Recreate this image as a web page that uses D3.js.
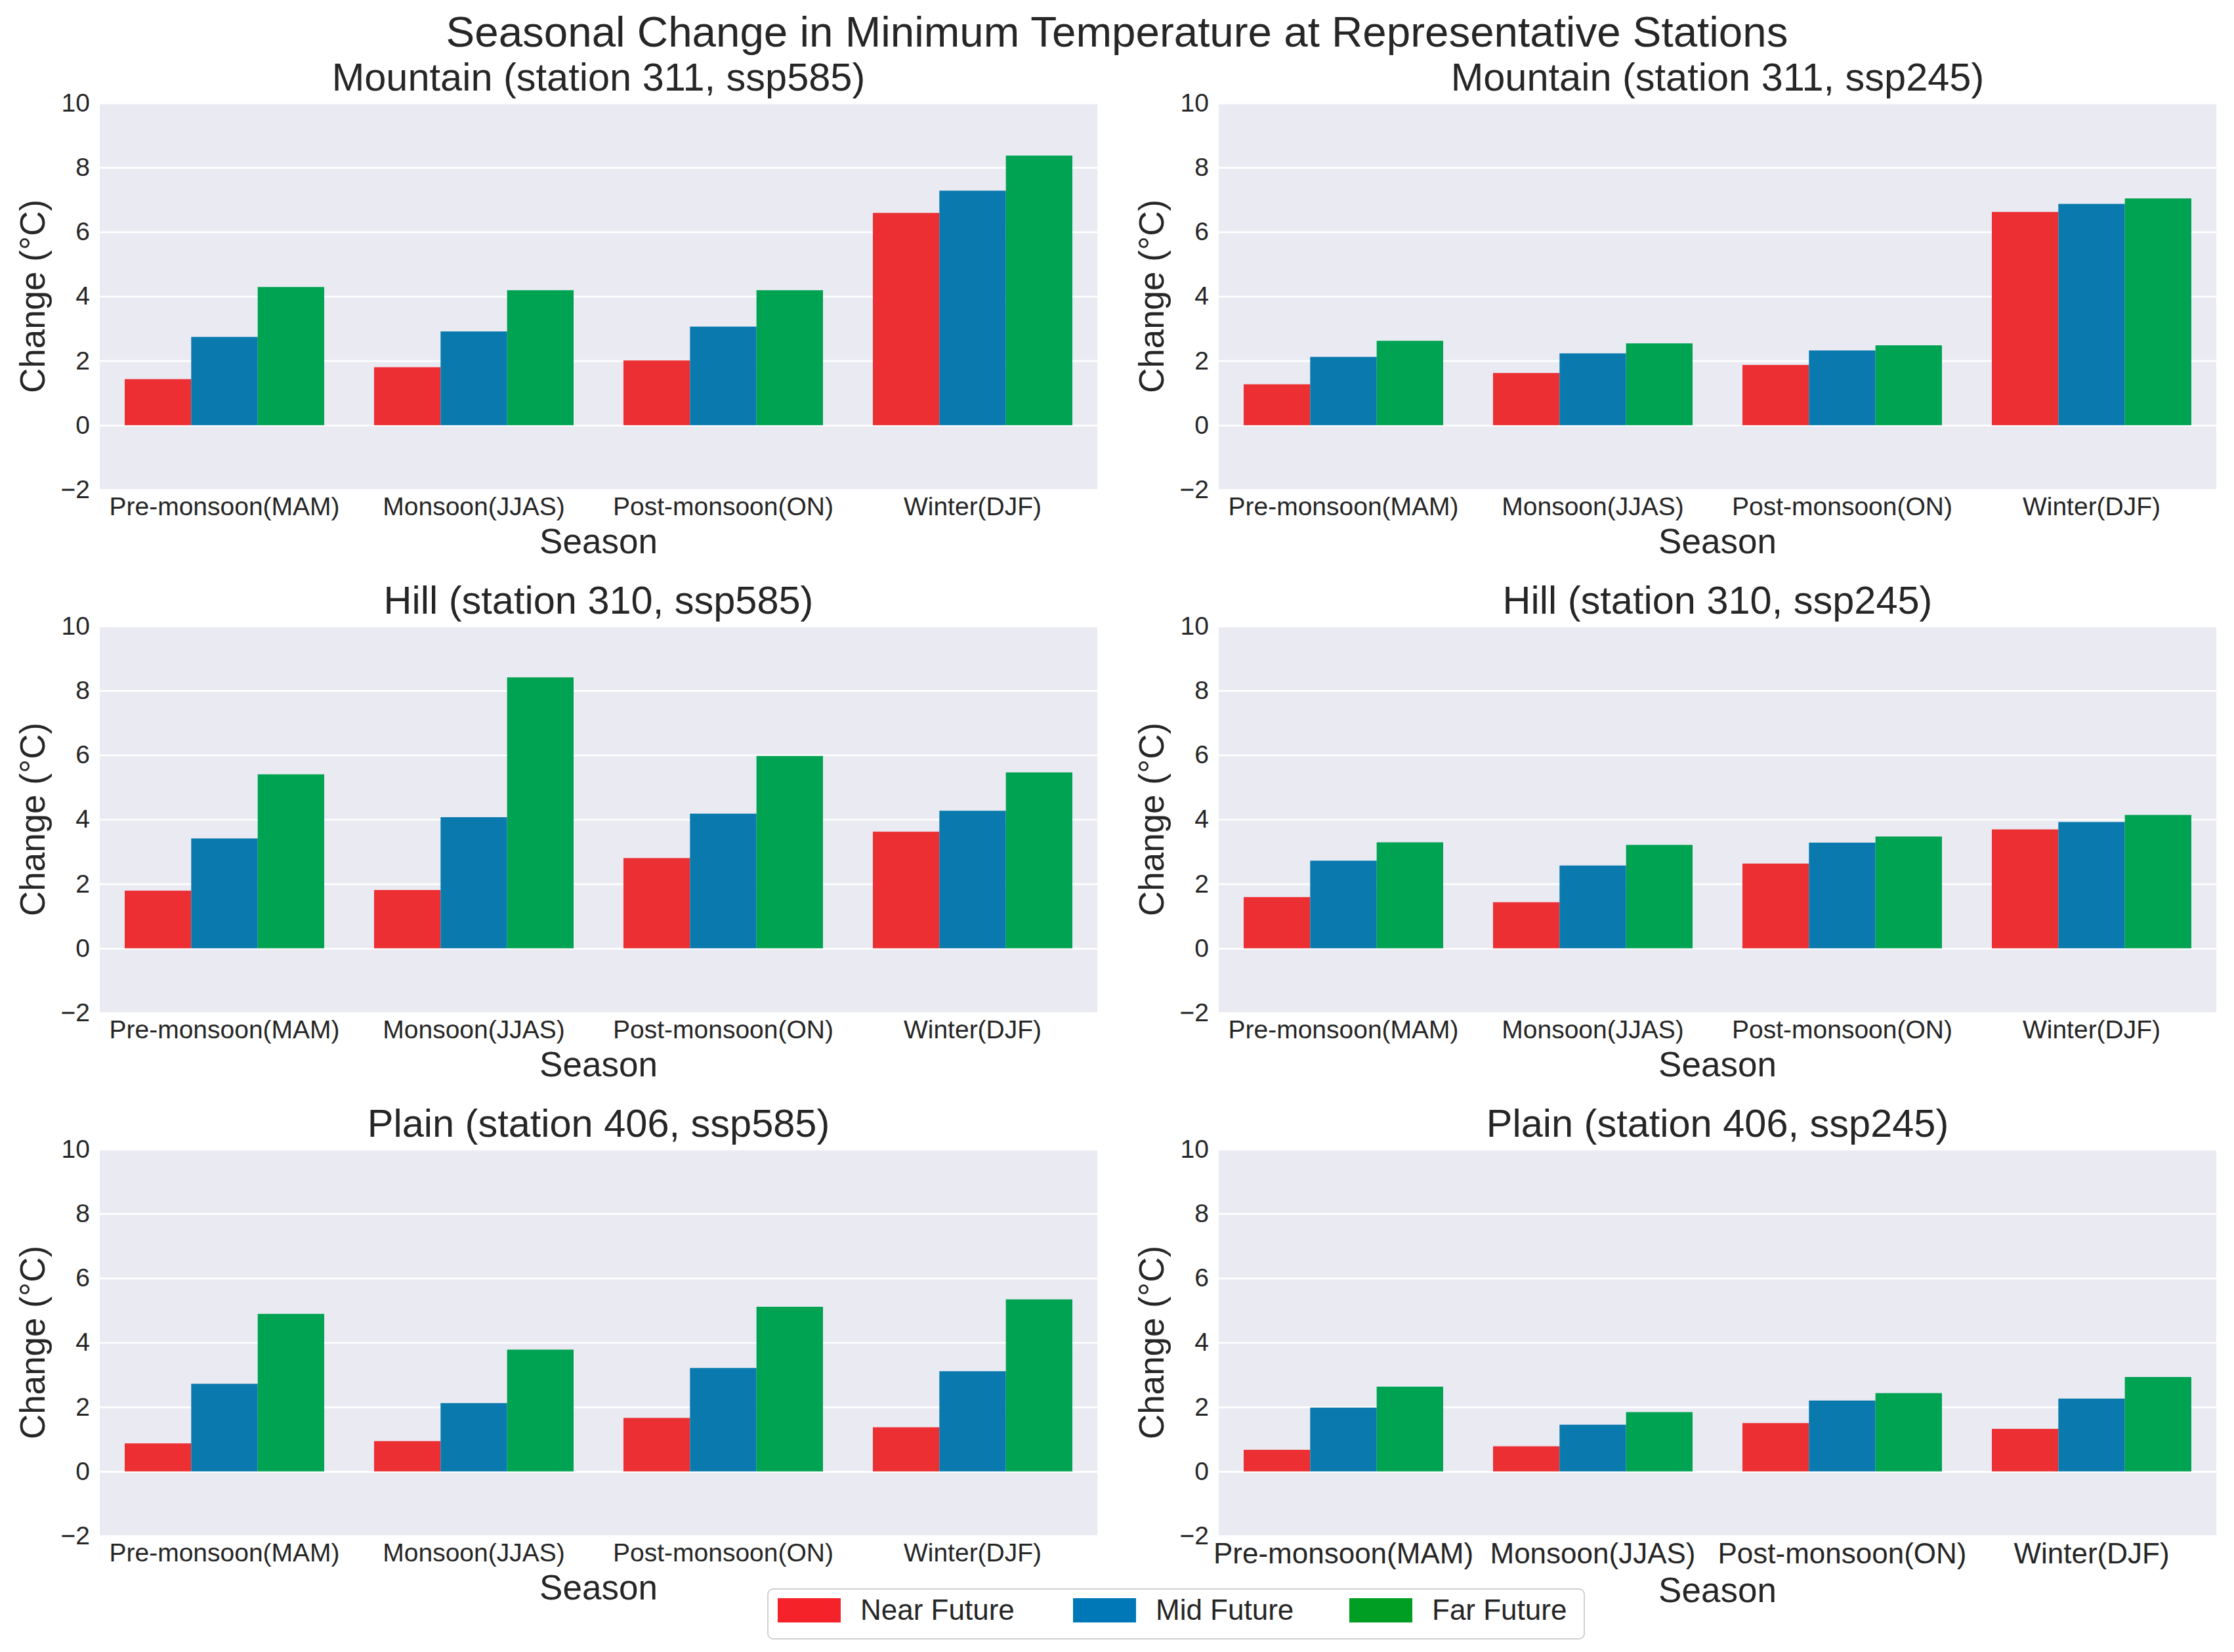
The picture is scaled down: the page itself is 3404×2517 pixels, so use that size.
<!DOCTYPE html>
<html>
<head>
<meta charset="utf-8">
<script src="https://cdn.jsdelivr.net/npm/d3@7"></script>
<style>
  body { margin: 0; background: #fff; }
  text { font-family: "Liberation Sans", Arial, sans-serif; fill: #262626; }
</style>
</head>
<body>
<svg id="chart"></svg>
<script>
// Data (°C change), one row per season: [near, mid, far]
const seasons = ["Pre-monsoon(MAM)", "Monsoon(JJAS)", "Post-monsoon(ON)", "Winter(DJF)"];
const periods = ["Near Future", "Mid Future", "Far Future"];
const yTicks = [-2, 0, 2, 4, 6, 8, 10];

const mountain585 = [[1.43, 2.74, 4.29], [1.80, 2.91, 4.19], [2.01, 3.06, 4.19], [6.59, 7.28, 8.37]];
const mountain245 = [[1.27, 2.12, 2.62], [1.62, 2.23, 2.54], [1.87, 2.32, 2.48], [6.62, 6.87, 7.04]];
const hill585 = [[1.79, 3.41, 5.40], [1.81, 4.07, 8.41], [2.80, 4.18, 5.97], [3.62, 4.27, 5.46]];
const hill245 = [[1.59, 2.72, 3.29], [1.43, 2.57, 3.21], [2.63, 3.28, 3.47], [3.69, 3.92, 4.14]];
const plain585 = [[0.87, 2.72, 4.89], [0.94, 2.12, 3.78], [1.66, 3.21, 5.11], [1.37, 3.11, 5.34]];
const plain245 = [[0.67, 1.98, 2.63], [0.78, 1.45, 1.84], [1.50, 2.20, 2.43], [1.32, 2.26, 2.93]];

const panelTitles = [
    "Mountain (station 311, ssp585)", "Mountain (station 311, ssp245)",
    "Hill (station 310, ssp585)", "Hill (station 310, ssp245)",
    "Plain (station 406, ssp585)", "Plain (station 406, ssp245)"
];
const panelValues = [mountain585, mountain245, hill585, hill245, plain585, plain245];

// Colours
const barColors = ["#eb2f32", "#0a7aae", "#00a351"];
const legendColors = ["#f5222a", "#0077b6", "#009e22"];

// Figure layout
const width = 3404, height = 2517;
const colLeft = [152, 1857];
const rowTop = [157, 954, 1751];
const W = 1520, H = 589;

const svg = d3.select("#chart")
    .attr("width", width)
    .attr("height", height);

svg.append("rect").attr("width", width).attr("height", height).attr("fill", "#fff");

// Main title
svg.append("text")
    .attr("x", width / 2)
    .attr("y", 71)
    .attr("text-anchor", "middle")
    .attr("font-size", 65.5)
    .text("Seasonal Change in Minimum Temperature at Representative Stations");

const y = d3.scaleLinear().domain([-2, 10]).range([H, 0]);
const x = d3.scaleBand().domain(seasons).range([0, W]).paddingInner(0.2).paddingOuter(0.1);
const xs = d3.scaleBand().domain(periods).range([0, x.bandwidth()]);

panelValues.forEach((vals, i) => {
    const row = Math.floor(i / 2), col = i % 2;
    const lastPanel = i === 5;
    const g = svg.append("g")
        .attr("transform", `translate(${colLeft[col]},${rowTop[row]})`);

    // Axes background
    g.append("rect")
        .attr("width", W)
        .attr("height", H)
        .attr("fill", "#eaeaf2");

    // Grid lines
    const grid = g.append("g")
        .call(d3.axisLeft(y).tickValues(yTicks).tickSize(-W).tickFormat(""));
    grid.select(".domain").remove();
    grid.selectAll("line").attr("stroke", "#fff").attr("stroke-width", 2.6);

    // Bars
    const groups = g.selectAll(".season")
        .data(vals)
        .enter().append("g")
        .attr("transform", (d, k) => `translate(${x(seasons[k])},0)`);

    groups.selectAll("rect")
        .data(d => d)
        .enter().append("rect")
        .attr("x", (d, j) => xs(periods[j]))
        .attr("width", xs.bandwidth())
        .attr("y", d => y(Math.max(0, d)))
        .attr("height", d => Math.abs(y(d) - y(0)))
        .attr("fill", (d, j) => barColors[j]);

    // Y axis labels
    const yAxis = g.append("g")
        .call(d3.axisLeft(y).tickValues(yTicks).tickSize(0).tickPadding(15)
            .tickFormat(d => d < 0 ? "\u2212" + Math.abs(d) : d));
    yAxis.select(".domain").remove();
    yAxis.selectAll("text")
        .attr("font-size", 39)
        .attr("font-family", null)
        .attr("fill", "#262626");

    // X axis labels
    const xAxis = g.append("g")
        .attr("transform", `translate(0,${H})`)
        .call(d3.axisBottom(x).tickSize(0).tickPadding(11));
    xAxis.select(".domain").remove();
    xAxis.selectAll("text")
        .attr("font-size", lastPanel ? 44 : 39)
        .attr("font-family", null)
        .attr("fill", "#262626");

    // Panel title
    g.append("text")
        .attr("x", W / 2)
        .attr("y", -19)
        .attr("text-anchor", "middle")
        .attr("font-size", 59.5)
        .text(panelTitles[i]);

    // Axis titles
    g.append("text")
        .attr("x", W / 2)
        .attr("y", H + (lastPanel ? 101 : 97))
        .attr("text-anchor", "middle")
        .attr("font-size", 53)
        .text("Season");

    g.append("text")
        .attr("transform", `translate(-84,${H / 2}) rotate(-90)`)
        .attr("text-anchor", "middle")
        .attr("font-size", 53)
        .text("Change (°C)");
});

// Legend at the bottom centre
const legend = svg.append("g").attr("transform", "translate(1170,2421)");
legend.append("rect")
    .attr("width", 1244)
    .attr("height", 76)
    .attr("rx", 8)
    .attr("fill", "#fff")
    .attr("stroke", "#d0d0d0")
    .attr("stroke-width", 2);

const legendX = [15, 465, 886];
const items = legend.selectAll(".item")
    .data(periods)
    .enter().append("g")
    .attr("transform", (d, j) => `translate(${legendX[j]},14)`);

items.append("rect")
    .attr("width", 96)
    .attr("height", 37)
    .attr("fill", (d, j) => legendColors[j]);

items.append("text")
    .attr("x", 126)
    .attr("y", 33)
    .attr("font-size", 44)
    .text(d => d);
</script>
</body>
</html>
